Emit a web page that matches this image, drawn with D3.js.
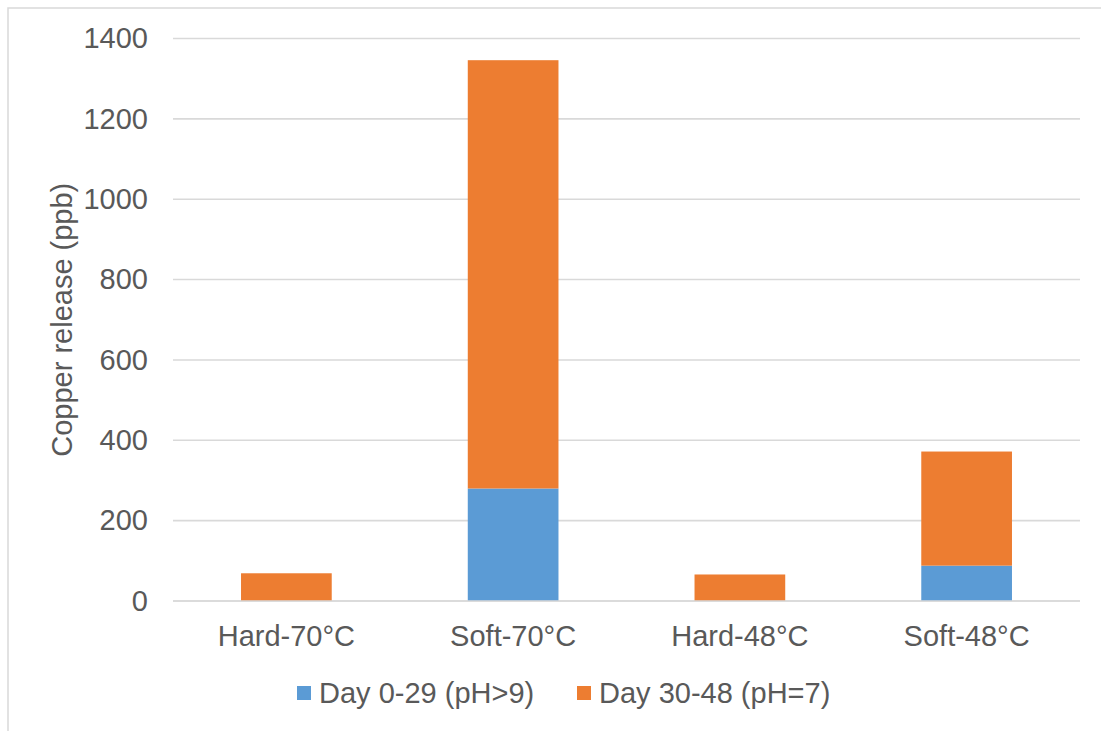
<!DOCTYPE html>
<html>
<head>
<meta charset="utf-8">
<script src="https://cdn.jsdelivr.net/npm/d3@7"></script>
<style>
  html, body { margin: 0; padding: 0; background: #fff; }
  svg { display: block; font-family: "Liberation Sans", Arial, sans-serif; }
</style>
</head>
<body>
<svg id="chart" width="1101" height="731"></svg>
<script>
// Copper release per water type / temperature, stacked by exposure period
const categories = ["Hard-70°C", "Soft-70°C", "Hard-48°C", "Soft-48°C"];
const seriesNames = ["Day 0-29 (pH>9)", "Day 30-48 (pH=7)"];
const day0to29 = [0, 280, 0, 88];
const day30to48 = [69, 1066, 66, 284];
const yTicks = [0, 200, 400, 600, 800, 1000, 1200, 1400];
const colors = ["#5B9BD5", "#ED7D31"];

const rows = categories.map((c, i) => ({ cat: c, s0: day0to29[i], s1: day30to48[i] }));
const stack = d3.stack().keys(["s0", "s1"])(rows);

const svg = d3.select("#chart");
const textColor = "#595959";
const gridColor = "#D9D9D9";
const fontSize = 29;

// chart area frame
svg.append("rect")
  .attr("x", 8).attr("y", 8).attr("width", 1200).attr("height", 800)
  .attr("fill", "none").attr("stroke", gridColor).attr("stroke-width", 1.5);

const plot = { left: 173, right: 1080, top: 38.5, bottom: 601 };

const x = d3.scaleBand()
  .domain(categories)
  .range([plot.left, plot.right])
  .paddingInner(0.6)
  .paddingOuter(0.3);

const y = d3.scaleLinear()
  .domain([0, 1400])
  .range([plot.bottom, plot.top]);

// horizontal gridlines
svg.append("g")
  .selectAll("line")
  .data(yTicks)
  .join("line")
  .attr("x1", plot.left).attr("x2", plot.right)
  .attr("y1", d => y(d)).attr("y2", d => y(d))
  .attr("stroke", gridColor).attr("stroke-width", 1.6);

// y axis tick labels
const yAxis = d3.axisLeft(y).tickValues(yTicks).tickSize(0).tickPadding(0).tickFormat(d3.format("d"));
const gy = svg.append("g").attr("transform", `translate(148,0)`).call(yAxis);
gy.select(".domain").remove();
gy.selectAll("text")
  .attr("fill", textColor)
  .style("font-size", fontSize + "px")
  .style("font-family", "'Liberation Sans', Arial, sans-serif");

// stacked bars
svg.append("g")
  .selectAll("g")
  .data(stack)
  .join("g")
  .attr("fill", (d, i) => colors[i])
  .selectAll("rect")
  .data(d => d)
  .join("rect")
  .attr("x", d => x(d.data.cat))
  .attr("width", x.bandwidth())
  .attr("y", d => y(d[1]))
  .attr("height", d => y(d[0]) - y(d[1]));

// baseline
svg.append("line")
  .attr("x1", plot.left).attr("x2", plot.right)
  .attr("y1", y(0)).attr("y2", y(0))
  .attr("stroke", gridColor).attr("stroke-width", 1.6);

// category labels
const xAxis = d3.axisBottom(x).tickSize(0).tickPadding(0);
const gx = svg.append("g").attr("transform", `translate(0,${y(0)})`).call(xAxis);
gx.select(".domain").remove();
gx.selectAll("text")
  .attr("y", 0)
  .attr("dy", 0)
  .attr("transform", "translate(0,45)")
  .attr("fill", textColor)
  .style("font-size", fontSize + "px")
  .style("font-family", "'Liberation Sans', Arial, sans-serif");

// y axis title
svg.append("text")
  .attr("transform", `translate(72,${(plot.top + plot.bottom) / 2}) rotate(-90)`)
  .attr("text-anchor", "middle")
  .attr("fill", textColor)
  .style("font-size", fontSize + "px")
  .text("Copper release (ppb)");

// legend
const legendX = [297, 577];
const legend = svg.append("g")
  .selectAll("g")
  .data(seriesNames)
  .join("g")
  .attr("transform", (d, i) => `translate(${legendX[i]},686)`);
legend.append("rect")
  .attr("width", 14).attr("height", 14)
  .attr("fill", (d, i) => colors[i]);
legend.append("text")
  .attr("x", 22).attr("y", 17)
  .attr("fill", textColor)
  .style("font-size", fontSize + "px")
  .text(d => d);
</script>
</body>
</html>
